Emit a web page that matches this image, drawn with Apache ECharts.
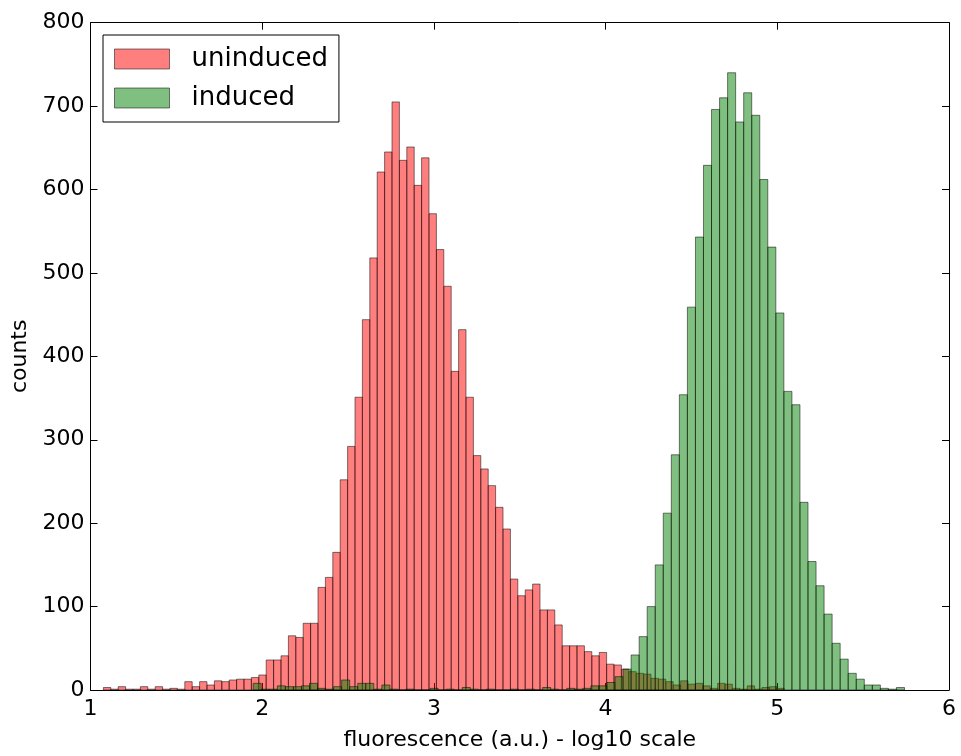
<!DOCTYPE html>
<html>
<head>
<meta charset="utf-8">
<script src="https://cdn.jsdelivr.net/npm/echarts@6/dist/echarts.min.js"></script>
<style>
  html, body { margin: 0; padding: 0; background: #ffffff; }
  #chart { width: 961px; height: 756px; }
</style>
</head>
<body>
<div id="chart"></div>
<script>
// Histogram counts per bin (log10 fluorescence)
const uninducedBinStart = 1.0751;
const uninducedBinWidth = 0.0431;
const uninducedCounts = [
  3, 1, 4, 1, 1, 4, 1, 4, 1, 2,
  1, 10, 4, 10, 6, 11, 10, 12, 13, 13,
  15, 18, 36, 36, 41, 65, 63, 80, 80, 123,
  135, 165, 252, 292, 351, 444, 518, 621, 645, 705,
  635, 651, 605, 638, 571, 528, 484, 382, 432, 351,
  281, 265, 245, 219, 193, 133, 113, 120, 127, 96,
  96, 78, 53, 53, 53, 46, 41, 45, 31, 30,
  25, 22, 20, 19, 14, 13, 10, 6, 11, 7,
  8, 5, 2, 8, 7, 2, 1, 5, 1, 3,
  4, 2
];

const inducedBinStart = 1.9476;
const inducedBinWidth = 0.04683;
const inducedCounts = [
  8, 1, 1, 5, 4, 4, 5, 8, 2, 1,
  4, 12, 4, 8, 8, 1, 6, 1, 0, 1,
  0, 0, 2, 0, 1, 0, 3, 1, 0, 1,
  0, 0, 1, 0, 1, 0, 3, 1, 0, 2,
  1, 2, 5, 5, 9, 16, 25, 42, 64, 100,
  150, 212, 282, 354, 459, 543, 629, 696, 710, 740,
  681, 716, 689, 612, 531, 452, 358, 342, 225, 154,
  125, 91, 56, 37, 20, 13, 6, 6, 2, 1,
  3
];

const seriesNames = ['uninduced', 'induced'];
const xTickValues = [1, 2, 3, 4, 5, 6];
const yTickValues = [0, 100, 200, 300, 400, 500, 600, 700, 800];

const xMin = xTickValues[0], xMax = xTickValues[xTickValues.length - 1];
const yMin = yTickValues[0], yMax = yTickValues[yTickValues.length - 1];

function toBins(start, width, counts) {
  return counts.map((c, i) => [start + i * width, start + (i + 1) * width, c]);
}

const FONT = 'DejaVu Sans';
const EDGE = 'rgba(0,0,0,0.5)';
const RED = 'rgba(255,0,0,0.5)';
const GREEN = 'rgba(0,128,0,0.5)';

function barRenderer(fill) {
  return function (params, api) {
    const x0 = api.value(0), x1 = api.value(1), v = api.value(2);
    const pTop = api.coord([x0, v]);
    const pBase = api.coord([x1, 0]);
    return {
      type: 'rect',
      shape: { x: pTop[0], y: pTop[1], width: pBase[0] - pTop[0], height: pBase[1] - pTop[1] },
      style: { fill: fill, stroke: EDGE, lineWidth: 1 }
    };
  };
}

const chart = echarts.init(document.getElementById('chart'), null, { renderer: 'canvas' });

const axisCommon = {
  axisLine: { show: true, onZero: false, lineStyle: { color: '#000', width: 1 } },
  axisTick: { show: true, inside: true, length: 7, lineStyle: { color: '#000', width: 1 } },
  splitLine: { show: false }
};

chart.setOption({
  animation: false,
  backgroundColor: '#ffffff',
  grid: { left: 90.5, right: 12, top: 22.7, bottom: 66, containLabel: false },
  legend: {
    data: [
      { name: seriesNames[0], icon: 'rect', itemStyle: { color: RED, borderColor: EDGE, borderWidth: 1 } },
      { name: seriesNames[1], icon: 'rect', itemStyle: { color: GREEN, borderColor: EDGE, borderWidth: 1 } }
    ],
    orient: 'vertical',
    left: 103,
    top: 35,
    itemWidth: 55,
    itemHeight: 20,
    itemGap: 13,
    padding: [11, 11, 11, 11],
    borderColor: '#000',
    borderWidth: 1,
    backgroundColor: '#ffffff',
    textStyle: { fontFamily: FONT, fontSize: 26, color: '#000', padding: [0, 0, 0, 17] },
    selectedMode: false
  },
  xAxis: [
    Object.assign({}, axisCommon, {
      type: 'value', min: xMin, max: xMax, interval: 1, position: 'bottom',
      axisLabel: { show: true, fontFamily: FONT, fontSize: 22, color: '#000', margin: 8 },
      name: 'fluorescence (a.u.) - log10 scale',
      nameLocation: 'middle',
      nameGap: 39,
      nameTextStyle: { fontFamily: FONT, fontSize: 22, color: '#000' }
    }),
    Object.assign({}, axisCommon, {
      type: 'value', min: xMin, max: xMax, interval: 1, position: 'top',
      axisLabel: { show: false }
    })
  ],
  yAxis: [
    Object.assign({}, axisCommon, {
      type: 'value', min: yMin, max: yMax, interval: 100, position: 'left',
      axisLabel: { show: true, fontFamily: FONT, fontSize: 22, color: '#000', margin: 6 },
      name: 'counts',
      nameLocation: 'middle',
      nameGap: 58,
      nameRotate: 90,
      nameTextStyle: { fontFamily: FONT, fontSize: 22, color: '#000' }
    }),
    Object.assign({}, axisCommon, {
      type: 'value', min: yMin, max: yMax, interval: 100, position: 'right',
      axisLabel: { show: false }
    })
  ],
  series: [
    {
      name: seriesNames[0],
      type: 'custom',
      xAxisIndex: 0,
      yAxisIndex: 0,
      itemStyle: { color: RED, borderColor: EDGE, borderWidth: 1 },
      renderItem: barRenderer(RED),
      encode: { x: [0, 1], y: 2 },
      data: toBins(uninducedBinStart, uninducedBinWidth, uninducedCounts),
      z: 2
    },
    {
      name: seriesNames[1],
      type: 'custom',
      xAxisIndex: 0,
      yAxisIndex: 0,
      itemStyle: { color: GREEN, borderColor: EDGE, borderWidth: 1 },
      renderItem: barRenderer(GREEN),
      encode: { x: [0, 1], y: 2 },
      data: toBins(inducedBinStart, inducedBinWidth, inducedCounts),
      z: 3
    }
  ]
});
</script>
</body>
</html>
